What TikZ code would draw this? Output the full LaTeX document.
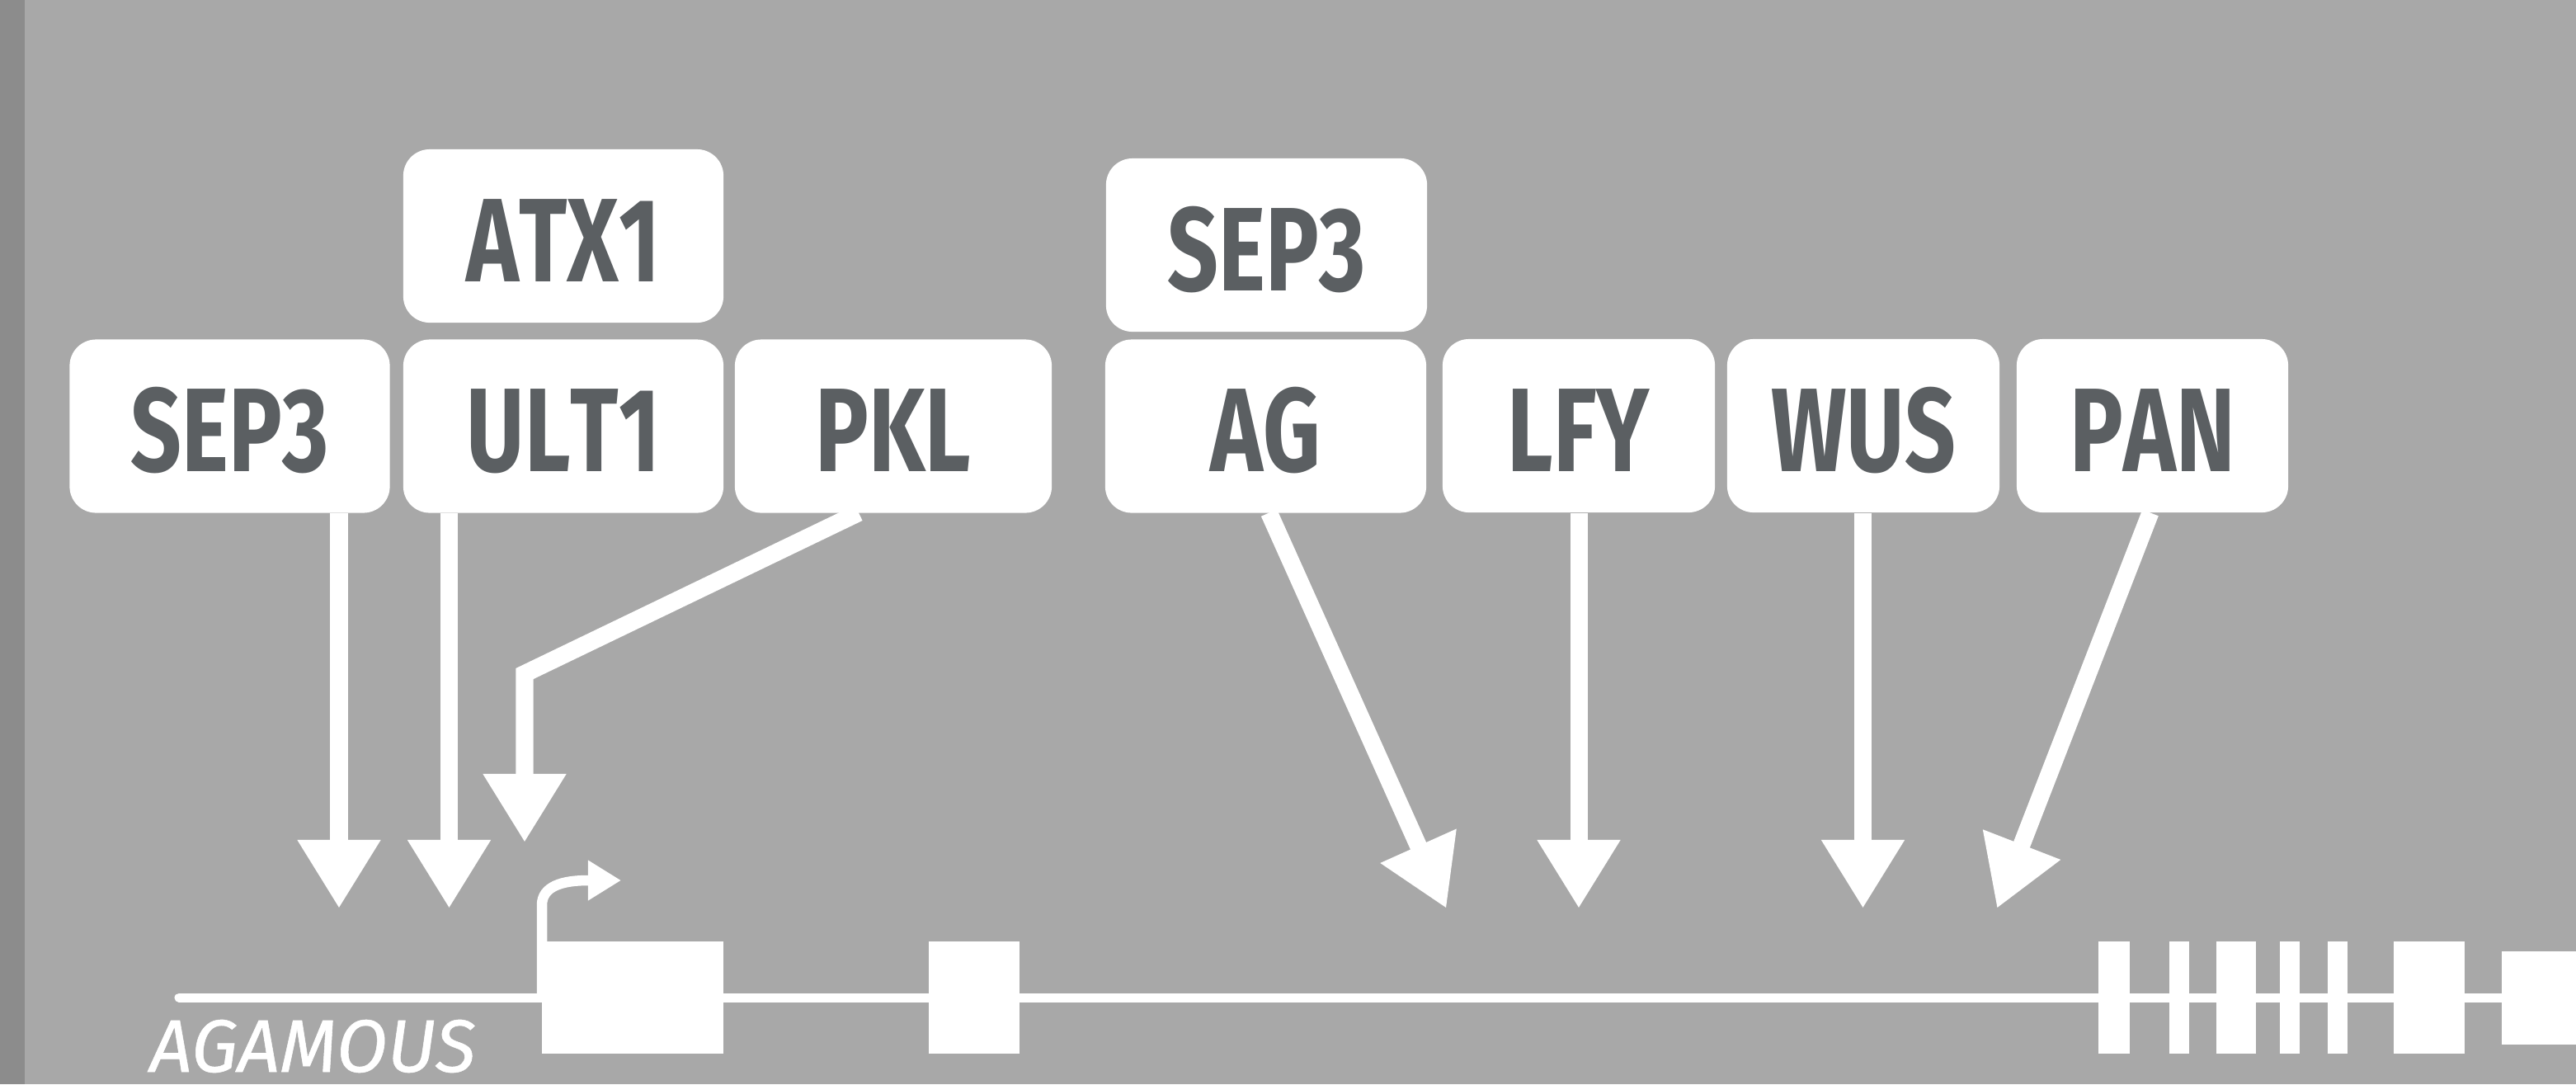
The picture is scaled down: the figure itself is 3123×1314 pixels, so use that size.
\documentclass[tikz,border=0pt]{standalone}
\usepackage{fontspec}
\setmainfont{Fira Sans}
\newfontfamily\labelfont[FakeStretch=0.75, Kerning=Off]{Fira Sans}
\newfontfamily\genefont[FakeBold=0.6]{Fira Sans}
\usetikzlibrary{arrows.meta}
\definecolor{bg}{RGB}{168,168,168}
\definecolor{strip}{RGB}{140,140,140}
\definecolor{txt}{RGB}{91,95,98}
\begin{document}
\begin{tikzpicture}[x=0.01cm,y=-0.01cm,
  factor/.style={draw=none, fill=white, rounded corners=0.32cm, minimum width=3.88cm,
    minimum height=2.10cm, inner sep=0pt, text height=1.1cm, text depth=0pt,
    font=\labelfont\bfseries\fontsize{41}{41}\selectfont, text=txt},
  reg/.style={draw=white, line width=0.21cm, line join=miter,
    -{Triangle[width=0.95cm,length=0.83cm]}},
  exon/.style={fill=white, draw=none},
  gene/.style={draw=white, line width=0.11cm},
]
\useasboundingbox (0,0) rectangle (3123,1314);
\fill[bg] (0,0) rectangle (3123,1314);
\fill[strip] (0,0) rectangle (30,1314);

% factor boxes
\node[factor] (sep3a) at (278.5,516.5) {SEP3};
\node[factor] (ult1) at (683,516.5) {ULT1};
\node[factor, minimum width=3.84cm] (pkl) at (1083,516.5) {PKL};
\node[factor] (atx1) at (683,286) {ATX1};
\node[factor, minimum width=3.89cm] (sep3b) at (1535.5,297) {SEP3};
\node[factor, minimum width=3.89cm] (ag) at (1534.5,516.5) {AG};
\node[factor, minimum width=3.30cm] (lfy) at (1914,516) {LFY};
\node[factor, minimum width=3.30cm] (wus) at (2259,516) {WUS};
\node[factor, minimum width=3.29cm] (pan) at (2609.5,516) {PAN};

% target points
\coordinate (t1) at (411,1101);
\coordinate (t2) at (544.5,1101);
\coordinate (pkbend) at (636,816.5);
\coordinate (t3) at (636,1021);
\coordinate (pkstart) at (1041,621.5);
\coordinate (agstart) at (1538.5,621.5);
\coordinate (t4) at (1753.5,1101);
\coordinate (t5) at (1914,1101);
\coordinate (t6) at (2258.5,1101);
\coordinate (panstart) at (2607,621.5);
\coordinate (t7) at (2421,1101);

% gene model
\draw[gene, line cap=round] (217,1209) -- (3130,1209);
\fill[exon] (657,1141) rectangle (877,1277);
\fill[exon] (1126,1141) rectangle (1236,1277);
\fill[exon] (2544,1141) rectangle (2582,1277);
\fill[exon] (2630,1141) rectangle (2654,1277);
\fill[exon] (2687,1141) rectangle (2735,1277);
\fill[exon] (2764,1141) rectangle (2788,1277);
\fill[exon] (2822,1141) rectangle (2846,1277);
\fill[exon] (2902,1141) rectangle (2988,1277);
\fill[exon] (3033,1153) rectangle (3123,1266);
% transcription start
\draw[draw=white, line width=0.125cm, -{Triangle[width=0.46cm,length=0.40cm]}]
  (657,1209) -- (657,1097) .. controls (657,1074) and (682,1067) .. (713,1067) -- (753,1067);
\node[anchor=base west, inner sep=0pt, text=white,
  font=\genefont\itshape\fontsize{25.6}{25.6}\selectfont] (agname) at (181,1299) {AGAMOUS};

% regulatory arrows
\draw[reg] (t1 |- sep3a.south) -- (t1);
\draw[reg] (t2 |- ult1.south) -- (t2);
\draw[reg] (pkstart) -- (pkbend) -- (t3);
\draw[reg] (agstart) -- (t4);
\draw[reg] (t5 |- lfy.south) -- (t5);
\draw[reg] (t6 |- wus.south) -- (t6);
\draw[reg] (panstart) -- (t7);
\end{tikzpicture}
\end{document}
